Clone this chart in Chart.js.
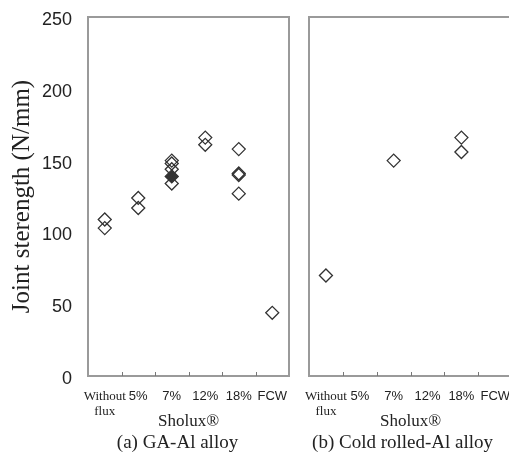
<!DOCTYPE html>
<html>
<head>
<meta charset="utf-8">
<script src="https://cdn.jsdelivr.net/npm/chart.js@4.4.1/dist/chart.umd.min.js"></script>
<style>
  html, body { margin: 0; padding: 0; background: #fff; overflow: hidden; }
  #wrap { position: relative; width: 509px; height: 455px; overflow: hidden; }
  #leftBox { position: absolute; left: 0; top: 0; width: 298px; height: 455px; }
  #rightBox { position: absolute; left: 298px; top: 0; width: 222px; height: 455px; }
</style>
</head>
<body>
<div id="wrap">
  <div id="leftBox"><canvas id="gaChart"></canvas></div>
  <div id="rightBox"><canvas id="coldChart"></canvas></div>
</div>
<script>
// -----------------------------
// Data
// -----------------------------
const categories = ["Without flux", "5%", "7%", "12%", "18%", "FCW"];
const tickLabels = [["Without", "flux"], "5%", "7%", "12%", "18%", "FCW"];

// (a) GA-Al alloy, one list per category
const gaValues = [[109, 103], [124, 117], [150, 148, 144, 134], [166, 161], [158, 141, 140, 127], [44]];
// overlapping points that print as a filled diamond
const gaSolid = [[], [], [139], [], [], []];

// (b) Cold rolled-Al alloy
const coldValues = [[70], [], [150], [], [166, 156], []];

const yMin = 0;
const yMax = 250;
const yStep = 50;

const SERIF = "'Liberation Serif', 'Times New Roman', serif";
const SANS = "'Liberation Sans', Arial, sans-serif";
const INK = "#222";

// -----------------------------
// Helpers
// -----------------------------
function toPoints(values) {
  return categories.flatMap((c, i) => values[i].map(v => ({ x: c, y: v })));
}

function diamondSet(values, fill) {
  return {
    data: toPoints(values),
    showLine: false,
    pointStyle: "rectRot",
    pointRadius: 6.5,
    pointHoverRadius: 6.5,
    pointBorderWidth: 1.3,
    pointBorderColor: "#333",
    pointBackgroundColor: fill
  };
}

// box around the plot + short inward ticks between categories
const framePlugin = {
  id: "frame",
  beforeDatasetsDraw(chart) {
    const { ctx, chartArea: a } = chart;
    const xs = chart.scales.x;
    ctx.save();
    ctx.strokeStyle = "#9a9a9a";
    ctx.lineWidth = 2;
    ctx.strokeRect(a.left, a.top, a.right - a.left, a.bottom - a.top);
    ctx.strokeStyle = "#777";
    ctx.lineWidth = 1;
    for (let i = 0; i < categories.length - 1; i++) {
      const x = Math.round((xs.getPixelForValue(i) + xs.getPixelForValue(i + 1)) / 2) + 0.5;
      ctx.beginPath();
      ctx.moveTo(x, a.bottom);
      ctx.lineTo(x, a.bottom - 4);
      ctx.stroke();
    }
    ctx.restore();
  }
};

// panel caption under the axis title
const captionPlugin = {
  id: "caption",
  afterDraw(chart, args, opts) {
    const { ctx, chartArea: a } = chart;
    ctx.save();
    ctx.font = "19px " + SERIF;
    ctx.fillStyle = INK;
    ctx.textAlign = "center";
    ctx.textBaseline = "middle";
    ctx.fillText(opts.text, (a.left + a.right) / 2 + opts.dx, opts.y);
    ctx.restore();
  }
};

function makeOptions(showY, padding, caption) {
  return {
    responsive: true,
    maintainAspectRatio: false,
    animation: false,
    layout: { padding: padding },
    plugins: {
      legend: { display: false },
      tooltip: { enabled: false },
      caption: caption
    },
    scales: {
      x: {
        type: "category",
        offset: true,
        grid: { display: false, drawTicks: false },
        border: { display: false },
        ticks: {
          autoSkip: false,
          maxRotation: 0,
          padding: 13,
          color: INK,
          font: c => (c.index === 0 ? { family: SERIF, size: 13, lineHeight: 1.15 } : { family: SANS, size: 13, lineHeight: 1.15 }),
          callback: (v, i) => tickLabels[i]
        },
        title: {
          display: true,
          text: "Sholux®",
          color: INK,
          font: { family: SERIF, size: 17 },
          padding: { top: 0, bottom: -2 }
        },
        afterFit: s => { s.height = 54; s.paddingLeft = 0; s.paddingRight = 0; }
      },
      y: {
        display: showY,
        min: yMin,
        max: yMax,
        grid: { display: false, drawTicks: false },
        border: { display: false },
        ticks: {
          stepSize: yStep,
          padding: 16,
          labelOffset: 3,
          color: INK,
          font: { family: SANS, size: 18 }
        },
        title: {
          display: true,
          text: "Joint sterength (N/mm)",
          color: INK,
          font: { family: SERIF, size: 25 },
          padding: { top: 7, bottom: 0 }
        },
        afterFit: s => {
          if (showY) s.width = 88;
          s.paddingTop = 0;
          s.paddingBottom = 0;
        }
      }
    }
  };
}

// -----------------------------
// Charts
// -----------------------------
new Chart(document.getElementById("gaChart"), {
  type: "line",
  data: {
    labels: categories,
    datasets: [
      diamondSet(gaValues, "rgba(255,255,255,0)"),
      diamondSet(gaSolid, "#333")
    ]
  },
  options: makeOptions(true, { top: 17, right: 9, bottom: 25, left: 0 },
    { text: "(a) GA-Al alloy", dx: -11, y: 443 }),
  plugins: [framePlugin, captionPlugin]
});

new Chart(document.getElementById("coldChart"), {
  type: "line",
  data: {
    labels: categories,
    datasets: [diamondSet(coldValues, "rgba(255,255,255,0)")]
  },
  options: makeOptions(false, { top: 17, right: 7, bottom: 25, left: 11 },
    { text: "(b) Cold rolled-Al alloy", dx: -8, y: 443 }),
  plugins: [framePlugin, captionPlugin]
});
</script>
</body>
</html>
